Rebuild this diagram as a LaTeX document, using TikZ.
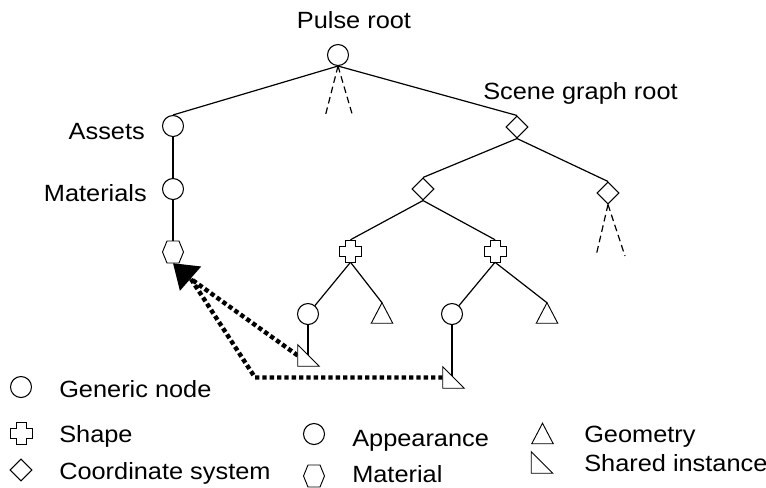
\documentclass[tikz,border=0pt]{standalone}
\usepackage{fontspec}
\setmainfont{Liberation Sans}[FakeStretch=1.08]
\usetikzlibrary{shapes.geometric,arrows.meta}

\tikzset{
  gen/.style={circle,draw,line width=0.8pt,minimum size=15.75pt,inner sep=0pt},
  csys/.style={diamond,draw,line width=0.8pt,minimum size=16.5pt,inner sep=0pt},
  shp/.style={rectangle,inner sep=0pt,minimum width=16.5pt,minimum height=16.5pt},
  mat/.style={rectangle,inner sep=0pt,minimum width=15.75pt,minimum height=16.5pt},
  geo/.style={rectangle,inner sep=0pt,minimum width=15.75pt,minimum height=15pt},
  inst/.style={rectangle,inner sep=0pt,minimum width=15.75pt,minimum height=15.75pt},
  link/.style={line width=0.9pt},
  more/.style={line width=0.9pt,dash pattern=on 5pt off 3pt},
  ref/.style={line width=3.3pt,dash pattern=on 3.3pt off 2.2pt},
  lbl/.style={inner sep=0pt,anchor=base west}
}

\begin{document}
\begin{tikzpicture}[x=0.75pt,y=-0.75pt,font=\fontsize{17.6}{21}\selectfont]
\useasboundingbox (0,0) rectangle (766,487);

% tree
\node[gen] (root) at (338,55) {};
\node[gen] (assets) at (173,126) {};
\node[gen] (mats) at (173,189) {};
\node[mat] (matl) at (173,252) {};
\node[csys] (sg) at (517,127) {};
\node[csys] (cs1) at (423,189) {};
\node[csys] (cs2) at (608,193) {};
\node[shp] (shp1) at (350.5,251) {};
\node[shp] (shp2) at (495,251) {};
\node[gen] (app1) at (308,314) {};
\node[geo] (geo1) at (382,313) {};
\node[gen] (app2) at (452,314) {};
\node[geo] (geo2) at (547,313) {};
\node[inst] (inst1) at (308.5,355.5) {};
\node[inst] (inst2) at (453.5,377.5) {};

\coordinate (r1) at (325,117);
\coordinate (r2) at (353,117);
\coordinate (c1) at (596,256);
\coordinate (c2) at (625,256);
\coordinate (bend) at (255,377.5);
\coordinate (hd) at (191,279);

\node[lbl,anchor=base] (tRoot) at (354,28) {Pulse root};
\node[lbl] (tSg) at (483,99) {Scene graph root};
\node[lbl,anchor=base east] (tAssets) at (145,139) {Assets};
\node[lbl,anchor=base east] (tMats) at (147,201) {Materials};

\draw[link] (root.south) -- (assets.north);
\draw[link] (root.south) -- (sg.north);
\draw[more] (root.south) -- (r1);
\draw[more] (root.south) -- (r2);
\draw[link] (assets.south) -- (mats.north);
\draw[link] (mats.south) -- (matl.north);
\draw[link] (sg.south) -- (cs1.north);
\draw[link] (sg.south) -- (cs2.north);
\draw[link] (cs1.south) -- (shp1.north);
\draw[link] (cs1.south) -- (shp2.north);
\draw[more] (cs2.south) -- (c1);
\draw[more] (cs2.south) -- (c2);
\draw[link] (shp1.south) -- (app1);
\draw[link] (shp1.south) -- (geo1.north);
\draw[link] (shp2.south) -- (app2);
\draw[link] (shp2.south) -- (geo2.north);
\draw[link] (app1.south) -- (app1.south |- inst1.center);
\draw[link] (app2.south) -- (app2.south |- inst2.center);

% shared references
\draw[ref] (inst1.west) -- (hd);
\draw[ref] (inst2.west) -- (bend) -- (hd);
\draw[line width=1pt,-{Triangle[length=17.5pt,width=24pt]}] (hd) -- (matl.south);

% legend
\node[gen] (lgGen) at (21,387) {};
\node[shp] (lgShp) at (21,433) {};
\node[csys] (lgCs) at (21,470) {};
\node[gen] (lgApp) at (314,434) {};
\node[mat] (lgMat) at (314,476) {};
\node[geo] (lgGeo) at (542.5,433.5) {};
\node[inst] (lgInst) at (542,462.5) {};

\node[lbl] (tGen) at (59,397) {Generic node};
\node[lbl] (tShp) at (59,442) {Shape};
\node[lbl] (tCs) at (59,479) {Coordinate system};
\node[lbl] (tApp) at (352,446) {Appearance};
\node[lbl] (tMat) at (352,482) {Material};
\node[lbl] (tGeo) at (584,442) {Geometry};
\node[lbl] (tInst) at (584,471) {Shared instance};

% outlines of the drawn shapes
\foreach \n in {shp1,shp2,lgShp}
  \draw[line width=0.7pt,shift={(\n.center)}] (-5,-11) -- (5,-11) -- (5,-5) -- (11,-5)
    -- (11,5) -- (5,5) -- (5,11) -- (-5,11) -- (-5,5) -- (-11,5) -- (-11,-5)
    -- (-5,-5) -- cycle;
\foreach \n in {matl,lgMat}
  \draw[line width=0.7pt,shift={(\n.center)}] (-6,-11) -- (6,-11) -- (10.5,0) -- (6,11)
    -- (-6,11) -- (-10.5,0) -- cycle;
\foreach \n in {geo1,geo2,lgGeo}
  \draw[line width=0.7pt] (\n.north) -- (\n.south east) -- (\n.south west) -- cycle;
\foreach \n in {inst1,inst2,lgInst}
  \draw[line width=0.7pt,fill=white] (\n.north west) -- (\n.south west) -- (\n.south east) -- cycle;
\end{tikzpicture}
\end{document}
